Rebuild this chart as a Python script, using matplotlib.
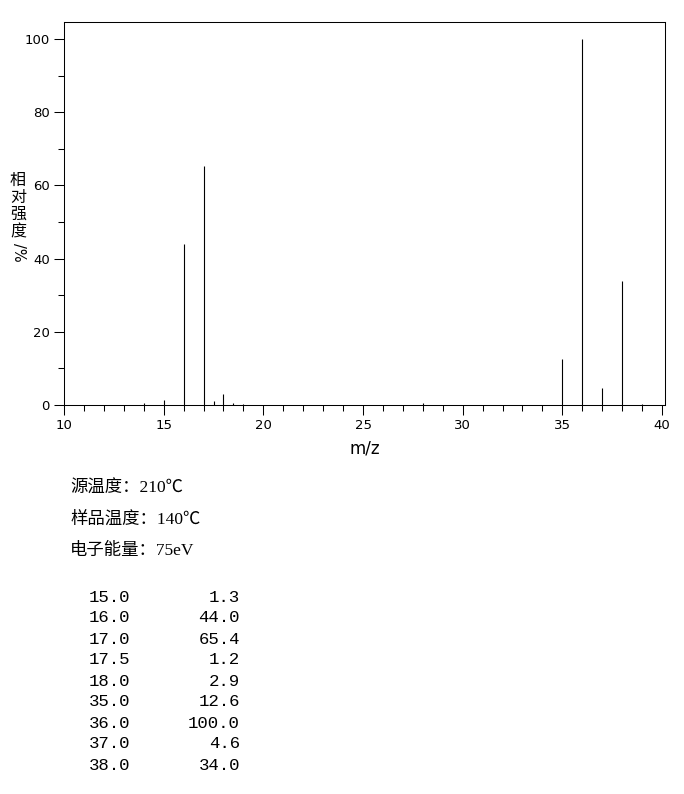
import matplotlib
matplotlib.use("Agg")
from matplotlib import pyplot as plt
from matplotlib.ticker import MultipleLocator

# peaks (m/z, relative intensity %)
mz = [14.0, 15.0, 16.0, 17.0, 17.5, 18.0, 18.5, 19.0, 28.0, 35.0, 36.0, 37.0, 38.0, 39.0]
intensity = [0.6, 1.3, 44.0, 65.4, 1.2, 2.9, 0.5, 0.3, 0.6, 12.6, 100.0, 4.6, 34.0, 0.4]

# listed table under the chart
table_mz = ["15.0", "16.0", "17.0", "17.5", "18.0", "35.0", "36.0", "37.0", "38.0"]
table_int = ["1.3", "44.0", "65.4", "1.2", "2.9", "12.6", "100.0", "4.6", "34.0"]

info_lines = ["源温度：210℃", "样品温度：140℃", "电子能量：75eV"]

W, H = 684, 794
fig = plt.figure(figsize=(W / 100, H / 100), dpi=100)
ax = fig.add_axes([64 / W, 1 - 405 / H, (665 - 64) / W, (405 - 21.7) / H])

ax.vlines(mz, 0, intensity, colors="black", linewidth=0.8)
ax.set_xlim(10, 40.15)
ax.set_ylim(0, 104.7)

ax.xaxis.set_major_locator(MultipleLocator(5))
ax.xaxis.set_minor_locator(MultipleLocator(1))
ax.yaxis.set_major_locator(MultipleLocator(20))
ax.yaxis.set_minor_locator(MultipleLocator(10))
ax.tick_params(which="major", length=7.2, width=0.75, labelsize=9.5, pad=3)
ax.tick_params(which="minor", length=4.3, width=0.75)
for s in ax.spines.values():
    s.set_linewidth(0.75)

ax.set_xlabel("m/z", fontsize=12, labelpad=5)

# stacked y label
fig.text(18 / W, 1 - 206 / H, "相\n对\n强\n度", fontsize=11.5, ha="center", va="center",
         family=["Noto Sans CJK SC", "DejaVu Sans"], linespacing=1.0)
fig.text(18 / W, 1 - 252 / H, "/%", fontsize=10.5, ha="center", va="center", rotation=-90)

# info text
serif = ["Liberation Serif", "Noto Sans CJK SC"]
for i, line in enumerate(info_lines):
    fig.text(70 / W, 1 - (489 + 31 * i) / H, line, fontsize=12.5, ha="left", va="center",
             family=serif)

for i in range(len(table_mz)):
    y = 1 - (597 + 21 * i) / H
    fig.text(130 / W, y, table_mz[i], fontsize=12.5, ha="right", va="center",
             family="Liberation Mono")
    fig.text(240 / W, y, table_int[i], fontsize=12.5, ha="right", va="center",
             family="Liberation Mono")

fig.savefig("out.png", dpi=100)
